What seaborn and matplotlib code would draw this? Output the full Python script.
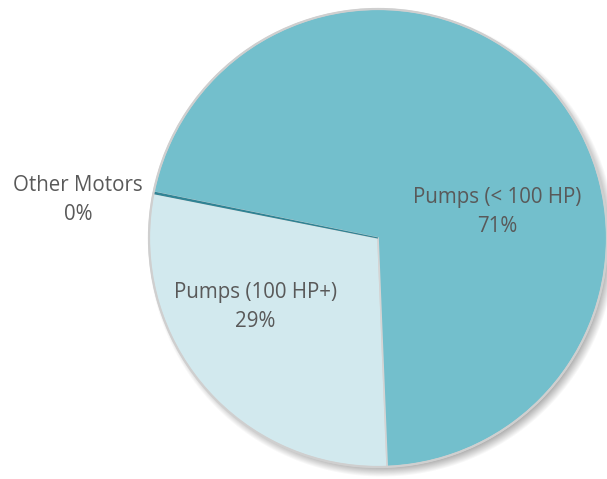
import numpy as np
import matplotlib
matplotlib.use("Agg")
import matplotlib.pyplot as plt
import seaborn as sns

# Motor energy use by category (share, %)
categories = ["Pumps (100 HP+)", "Other Motors", "Pumps (< 100 HP)"]
shares = [28.75, 0.1, 71.15]
shown_pct = [29, 0, 71]
colors = ["#D2E9EE", "#2F8394", "#73BFCC"]

sns.set_theme(style="white")
plt.rcParams["font.family"] = ["Open Sans", "DejaVu Sans"]

W, H = 607, 479
fig = plt.figure(figsize=(W / 100, H / 100), dpi=100)
ax = fig.add_axes([0, 0, 1, 1])

cx, cy, r = 378, H - 238, 229

# soft drop shadow behind the pie
sx, sy, blur = cx + 4, cy - 5, 5.0
yy, xx = np.mgrid[0:H, 0:W] + 0.5
d = np.hypot(xx - sx, yy - sy)
alpha = np.clip((r + blur - d) / (2 * blur), 0, 1) * 0.55
shadow = np.zeros((H, W, 4))
shadow[..., :3] = 0.45
shadow[..., 3] = alpha
ax.imshow(shadow, extent=(0, W, 0, H), origin="lower", zorder=0,
          interpolation="bilinear")

wedges, _ = ax.pie(
    shares, colors=colors, startangle=-87.7, counterclock=False,
    center=(cx, cy), radius=r, frame=True,
    wedgeprops=dict(edgecolor="#D4D4D4", linewidth=1.2),
)
for w in wedges:
    w.set_zorder(2)
# the tiny slice keeps its own colour on its edge so it stays visible
wedges[1].set_edgecolor(colors[1])
wedges[1].set_linewidth(0.8)
wedges[1].set_zorder(2.5)

ax.set_xlim(0, W)
ax.set_ylim(0, H)
ax.set_aspect("equal")
ax.axis("off")

# outer rim in light grey
rim = plt.Circle((cx, cy), r, fill=False, edgecolor="#CFCFCF", linewidth=1.6,
                 zorder=3)
ax.add_patch(rim)

label_pos = [(255, H - 307), (78, H - 200), (497, H - 212)]
for name, pct, (lx, ly) in zip(categories, shown_pct, label_pos):
    ax.text(lx, ly, f"{name}\n{pct}%", ha="center", va="center",
            fontsize=14.8, color="#595959", linespacing=1.55, zorder=4)

fig.savefig("out.png", dpi=100)
